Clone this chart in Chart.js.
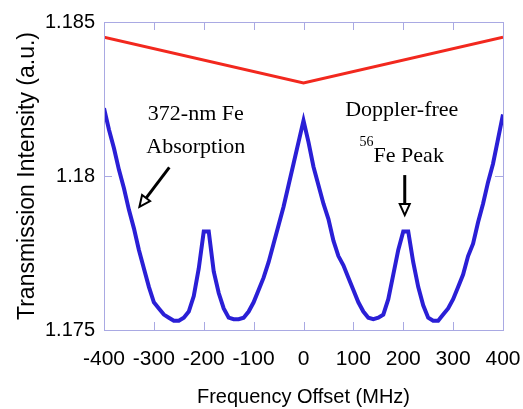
<!DOCTYPE html>
<html>
<head>
<meta charset="utf-8">
<script src="https://cdn.jsdelivr.net/npm/chart.js@4.4.0/dist/chart.umd.min.js"></script>
<style>
  html, body { margin: 0; padding: 0; background: #fff; }
  #wrap { width: 523px; height: 409px; }
</style>
</head>
<body>
<div id="wrap"><canvas id="chart" width="523" height="409"></canvas></div>
<script>
// Frequency axis (MHz) and readings
const freq = [
  -400, -390, -380, -370, -360, -350, -340, -330, -320, -310,
  -300, -290, -280, -270, -260, -250, -240, -230, -220, -210,
  -200, -190, -180, -170, -160, -150, -140, -130, -120, -110,
  -100, -90, -80, -70, -60, -50, -40, -30, -20, -10,
  0, 10, 20, 30, 40, 50, 60, 70, 80, 90,
  100, 110, 120, 130, 140, 150, 160, 170, 180, 190,
  200, 210, 220, 230, 240, 250, 260, 270, 280, 290,
  300, 310, 320, 330, 340, 350, 360, 370, 380, 390, 400
];

// Transmission with absorption (blue)
const absorption = [
  1.1822, 1.1815, 1.1809, 1.1802, 1.1796, 1.1789, 1.1783, 1.1776, 1.1770, 1.1764,
  1.1759, 1.1757, 1.1755, 1.1754, 1.1753, 1.1753, 1.1754, 1.1756, 1.1761, 1.1770,
  1.1782, 1.1782, 1.1769, 1.1762, 1.1757, 1.1754, 1.17535, 1.17535, 1.1754, 1.1756,
  1.1759, 1.1763, 1.1767, 1.1772, 1.1778, 1.1784, 1.1790, 1.1797, 1.1804, 1.1811,
  1.1818, 1.1811, 1.1803, 1.1797, 1.1791, 1.1786, 1.1779, 1.1774, 1.1771, 1.1767,
  1.1763, 1.1759, 1.1756, 1.1754, 1.17535, 1.1754, 1.1755, 1.1760, 1.1768, 1.1776,
  1.1782, 1.1782, 1.1772, 1.1764, 1.1758, 1.1754, 1.1753, 1.1753, 1.1755, 1.1757,
  1.1760, 1.1764, 1.1768, 1.1774, 1.1778, 1.1785, 1.1791, 1.1798, 1.1804, 1.1812, 1.1820
];

// Reference beam (red)
const refFreq = [-400, 0, 400];
const reference = [1.18451, 1.18302, 1.18451];

const xTicks = [-400, -300, -200, -100, 0, 100, 200, 300, 400];
const yTicks = [1.175, 1.18, 1.185];
const yTickLabels = ['1.175', '1.18', '1.185'];

const frameColor = '#a9a9e3';

// Box around plot area with inward tick marks
const framePlugin = {
    id: 'frame',
    afterDatasetsDraw(chart) {
        const { ctx, chartArea: a, scales } = chart;
        ctx.save();
        ctx.strokeStyle = frameColor;
        ctx.lineWidth = 1;
        ctx.strokeRect(a.left + 0.5, a.top + 0.5, a.right - a.left, a.bottom - a.top);
        ctx.beginPath();
        xTicks.forEach(v => {
            const px = Math.round(scales.x.getPixelForValue(v)) + 0.5;
            ctx.moveTo(px, a.bottom); ctx.lineTo(px, a.bottom - 8);
            ctx.moveTo(px, a.top); ctx.lineTo(px, a.top + 8);
        });
        yTicks.forEach(v => {
            const py = Math.round(scales.y.getPixelForValue(v)) + 0.5;
            ctx.moveTo(a.left, py); ctx.lineTo(a.left + 8, py);
            ctx.moveTo(a.right, py); ctx.lineTo(a.right - 8, py);
        });
        ctx.stroke();
        ctx.restore();
    }
};

function arrow(ctx, x1, y1, x2, y2) {
    const ang = Math.atan2(y2 - y1, x2 - x1);
    const len = 11, half = 5;
    const bx = x2 - len * Math.cos(ang), by = y2 - len * Math.sin(ang);
    ctx.beginPath();
    ctx.moveTo(x1, y1);
    ctx.lineTo(bx, by);
    ctx.lineWidth = 3;
    ctx.stroke();
    ctx.beginPath();
    ctx.moveTo(x2, y2);
    ctx.lineTo(bx + half * Math.sin(ang), by - half * Math.cos(ang));
    ctx.lineTo(bx - half * Math.sin(ang), by + half * Math.cos(ang));
    ctx.closePath();
    ctx.fillStyle = '#fff';
    ctx.fill();
    ctx.lineWidth = 2;
    ctx.stroke();
}

// Text labels and arrows, placed in data coordinates
const notePlugin = {
    id: 'notes',
    afterDraw(chart) {
        const { ctx, scales } = chart;
        const X = v => scales.x.getPixelForValue(v);
        const Y = v => scales.y.getPixelForValue(v);
        const serif = '"Liberation Serif", serif';
        ctx.save();
        ctx.fillStyle = '#000';
        ctx.strokeStyle = '#000';
        ctx.textAlign = 'center';
        ctx.textBaseline = 'alphabetic';
        ctx.font = '22px ' + serif;
        ctx.fillText('372-nm Fe', X(-216), Y(1.18182));
        ctx.fillText('Absorption', X(-216), Y(1.18076));
        ctx.fillText('Doppler-free', X(197), Y(1.18195));
        // 56Fe Peak with superscript
        const main = 'Fe Peak';
        const wMain = ctx.measureText(main).width;
        ctx.font = '14px ' + serif;
        const wSup = ctx.measureText('56').width;
        const left = X(197) - (wMain + wSup) / 2;
        ctx.textAlign = 'left';
        ctx.fillText('56', left, Y(1.18097));
        ctx.font = '22px ' + serif;
        ctx.fillText(main, left + wSup, Y(1.18046));
        arrow(ctx, X(-269), Y(1.18028), X(-329), Y(1.17900));
        arrow(ctx, X(203), Y(1.18003), X(203), Y(1.17873));
        ctx.restore();
    }
};

const ctx = document.getElementById('chart');
new Chart(ctx, {
    type: 'line',
    data: {
        datasets: [
            {
                label: 'Reference',
                data: refFreq.map((f, i) => ({ x: f, y: reference[i] })),
                borderColor: '#f2281e',
                borderWidth: 3,
                pointRadius: 0,
                tension: 0
            },
            {
                label: 'Absorption',
                data: freq.map((f, i) => ({ x: f, y: absorption[i] })),
                borderColor: '#2a1fd6',
                borderWidth: 4,
                pointRadius: 0,
                tension: 0
            }
        ]
    },
    options: {
        responsive: false,
        animation: false,
        layout: { padding: { top: 22, right: 20, left: 0, bottom: 0 } },
        plugins: {
            legend: { display: false },
            tooltip: { enabled: false }
        },
        scales: {
            x: {
                type: 'linear',
                min: -400,
                max: 400,
                afterBuildTicks: s => { s.ticks = xTicks.map(v => ({ value: v })); },
                afterFit: s => { s.height = 79; s.paddingLeft = 0; s.paddingRight = 0; },
                grid: { display: false, drawTicks: false },
                border: { display: false },
                ticks: {
                    color: '#000',
                    padding: 17,
                    maxRotation: 0,
                    font: { family: '"Liberation Sans", Arial, sans-serif', size: 21 }
                },
                title: {
                    display: true,
                    text: 'Frequency Offset (MHz)',
                    color: '#000',
                    padding: { top: 4, bottom: 0 },
                    font: { family: '"Liberation Sans", Arial, sans-serif', size: 20 }
                }
            },
            y: {
                min: 1.175,
                max: 1.185,
                afterBuildTicks: s => { s.ticks = yTicks.map(v => ({ value: v })); },
                afterFit: s => { s.width = 104; s.paddingTop = 0; s.paddingBottom = 0; },
                grid: { display: false, drawTicks: false },
                border: { display: false },
                ticks: {
                    color: '#000',
                    padding: 9,
                    callback: (v) => yTickLabels[yTicks.findIndex(t => Math.abs(t - v) < 1e-9)],
                    font: { family: '"Liberation Sans", Arial, sans-serif', size: 20 }
                },
                title: {
                    display: true,
                    text: 'Transmission Intensity (a.u.)',
                    color: '#000',
                    padding: { top: 14, bottom: 0 },
                    font: { family: '"Liberation Sans", Arial, sans-serif', size: 23 }
                }
            }
        }
    },
    plugins: [framePlugin, notePlugin]
});
</script>
</body>
</html>
